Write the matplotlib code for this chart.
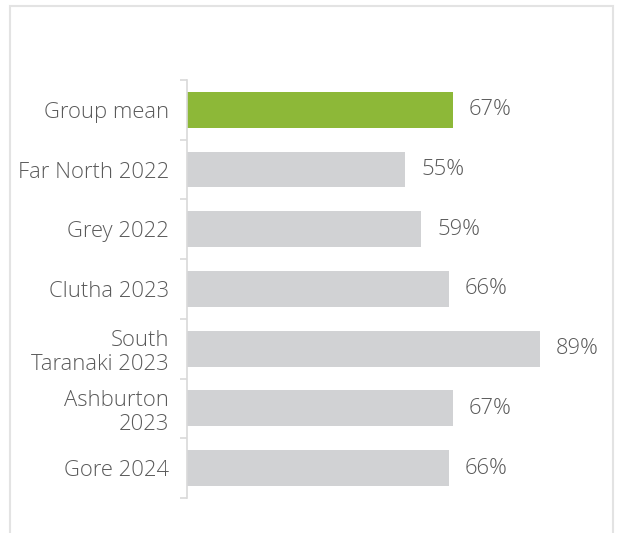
import matplotlib.pyplot as plt
from matplotlib.patches import Rectangle
from matplotlib.ticker import FixedLocator

labels = ['Group mean', 'Far North 2022', 'Grey 2022', 'Clutha 2023',
          'South\nTaranaki 2023', 'Ashburton\n2023', 'Gore 2024']
values = [67, 55, 59, 66, 89, 67, 66]
colors = ['#8db838'] + ['#d1d2d4'] * 6

plt.rcParams['font.family'] = ['Open Sans', 'DejaVu Sans']
text_color = '#5a5a5a'
fsize = 15.8

fig = plt.figure(figsize=(6.3, 5.33), dpi=100)
ax = fig.add_axes([0.297, 0.0657, 0.63, 0.7843])

pos = list(range(len(labels)))
ax.barh(pos, values, height=0.6, color=colors)
for y, v in zip(pos, values):
    ax.text(v + 4, y, f'{v}%', va='center', ha='left',
            fontsize=fsize, fontweight='light', color=text_color)

ax.set_xlim(0, 100)
ax.set_ylim(len(labels) - 0.5, -0.5)
ax.set_yticks(pos)
ax.set_yticklabels(labels, fontsize=fsize, fontweight='light',
                   color=text_color, linespacing=1.2)
ax.yaxis.set_minor_locator(FixedLocator([p - 0.5 for p in range(len(labels) + 1)]))
ax.tick_params(axis='y', which='major', length=0, pad=13)
ax.tick_params(axis='y', which='minor', length=5, width=1.2, color='#d9d9d9')
ax.set_xticks([])
for side in ['top', 'right', 'bottom']:
    ax.spines[side].set_visible(False)
ax.spines['left'].set_color('#d9d9d9')
ax.spines['left'].set_linewidth(1.2)

# light frame around the chart area
fig.patches.append(Rectangle((10 / 630, -0.05), 603 / 630, 1.05 - 6 / 533,
                             transform=fig.transFigure, fill=False,
                             edgecolor='#e3e3e3', linewidth=1.5))

fig.savefig('out.png', dpi=100)
